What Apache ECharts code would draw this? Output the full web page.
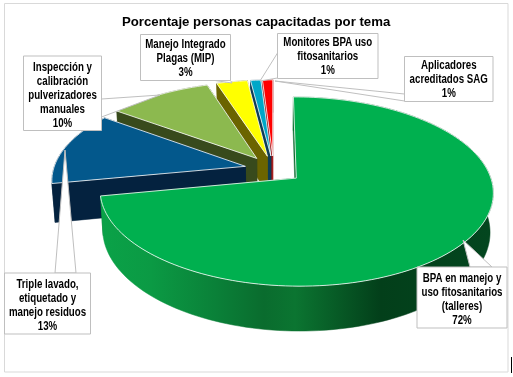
<!DOCTYPE html>
<html><head><meta charset="utf-8">
<style>html,body{margin:0;padding:0;background:#fff}#c{width:513px;height:377px}</style>
<script src="https://cdn.jsdelivr.net/npm/echarts@6/dist/echarts.min.js"></script>
</head><body><div id="c"></div>
<script>
const titleText = 'Porcentaje personas capacitadas por tema';
const categories = ['BPA en manejo y\nuso fitosanitarios\n(talleres)','Triple lavado,\netiquetado y\nmanejo residuos','Inspección y\ncalibración\npulverizadores\nmanuales','Manejo Integrado\nPlagas (MIP)','Monitores BPA uso\nfitosanitarios','Aplicadores\nacreditados SAG'];
const values = [72,13,10,3,1,1];
const topColors = ['#00b04f','#03588c','#8cb94f','#ffff00','#00a7c8','#ff0000'];
const wallColors = ['#0b6b2e','#04223f','#384a1c','#6b6400','#0d3c58','#a01010'];

const G = {cx:273.6, cy:169.3, R:192, k:0.47, p:0.14, e:29, H:38, shrink:0.985};
function proj(u,v,low){
  const s = 1/(1-G.p*v/G.R);
  let x = G.cx+u*s, y = G.cy+v*G.k*s;
  if(low){ x = G.cx+u*s*G.shrink; y += G.H*s; }
  return [x,y];
}
const total = values.reduce((a,b)=>a+b,0);
const spans = []; { let acc=0; values.forEach(v=>{ const a0=acc/total*Math.PI*2; acc+=v; spans.push([a0,acc/total*Math.PI*2]); }); }

function renderSlice(params){
  const i = params.dataIndex, idx = values.length-1-i;
  const [a0,a1] = spans[idx], m=(a0+a1)/2;
  const ax=G.e*Math.sin(m), av=-G.e*Math.cos(m);
  const n = Math.max(4,Math.ceil((a1-a0)/0.03));
  const rimT=[], rimB=[];
  for(let j=0;j<=n;j++){
    const t=a0+(a1-a0)*j/n, u=ax+G.R*Math.sin(t), v=av-G.R*Math.cos(t);
    rimT.push(proj(u,v,false)); rimB.push(proj(u,v,true));
  }
  const apT=proj(ax,av,false), apB=proj(ax,av,true);
  const wall = idx===0 ? {type:'linear',x:100,y:0,x2:490,y2:0,global:true,colorStops:[
    {offset:0,color:'#0aa248'},{offset:0.13,color:'#0b9a44'},{offset:0.3,color:'#0a8038'},{offset:0.42,color:'#0a6c2e'},{offset:0.5,color:'#0b7531'},{offset:0.72,color:'#033f1a'},{offset:1,color:'#03461f'}]} : wallColors[idx];
  const poly=(pts,fill,extra)=>({type:'polygon',shape:{points:pts},style:Object.assign({fill:fill,stroke:fill,lineWidth:0.5},extra||{})});
  return {type:'group',children:[
    poly([apT,rimT[0],rimB[0],apB],wallColors[idx]),
    poly([apT,rimT[n],rimB[n],apB],wallColors[idx]),
    poly(rimT.concat(rimB.slice().reverse()),wall),
    poly([apT].concat(rimT),topColors[idx],{stroke:'#ffffff',lineWidth:0.8})
  ]};
}

const frame = {type:'rect',shape:{x:4.5,y:3.5,width:503.5,height:368.5},style:{fill:'none',stroke:'#d9d9d9',lineWidth:1},z:0};
const stub = {type:'line',shape:{x1:511.5,y1:357,x2:511.5,y2:373},style:{stroke:'#000',lineWidth:1}};
const callouts = [
 {i:0,box:[417,267,90,61],wedge:[[470,267],[463,240],[492,267]],dy:2},
 {i:1,box:[4.5,273,86,61],wedge:[[55,273],[65,150],[76,273]],dy:2},
 {i:2,box:[23.5,56,78,74.5],wedge:[[101.5,99],[160,95],[101.5,117]],dy:2},
 {i:3,box:[140.5,34.5,90,46],wedge:[[215,80.5],[232,83],[230.5,80.5]],dy:1},
 {i:4,box:[277.5,33.5,100.5,45],wedge:[[277.5,53],[260,81],[277.5,78]],dy:1},
 {i:5,box:[404.5,56.5,88.5,45],wedge:[[404.5,94],[275,81],[404.5,101]],dy:1}
];
const gfx=[frame,stub];
callouts.forEach(c=>{
  const [x,y,w,h]=c.box;
  gfx.push({type:'polygon',z:10,shape:{points:c.wedge},style:{fill:'#fff',stroke:'#bfbfbf',lineWidth:1}});
  gfx.push({type:'rect',z:11,shape:{x,y,width:w,height:h},style:{fill:'#fff',stroke:'#bfbfbf',lineWidth:1}});
  const t=categories[c.i]+'\n'+values[c.i]+'%';
  gfx.push({type:'text',z:12,x:x+w/2,y:y+h/2+c.dy,scaleX:0.81,style:{text:t,fill:'#000',font:'bold 12px "Liberation Sans"',lineHeight:14,align:'center',verticalAlign:'middle'}});
});

const chart = echarts.init(document.getElementById('c'),null,{renderer:'canvas'});
chart.setOption({
  animation:false,
  title:{text:titleText,top:16,left:122,padding:0,textStyle:{fontFamily:'Liberation Sans',fontSize:13.2,fontWeight:'bold',color:'#000'}},
  series:[{type:'custom',coordinateSystem:'none',renderItem:renderSlice,silent:true,z:2,
    data:values.map((v,i)=>({name:categories[i],value:v})).reverse()}],
  graphic:gfx
});
</script></body></html>
